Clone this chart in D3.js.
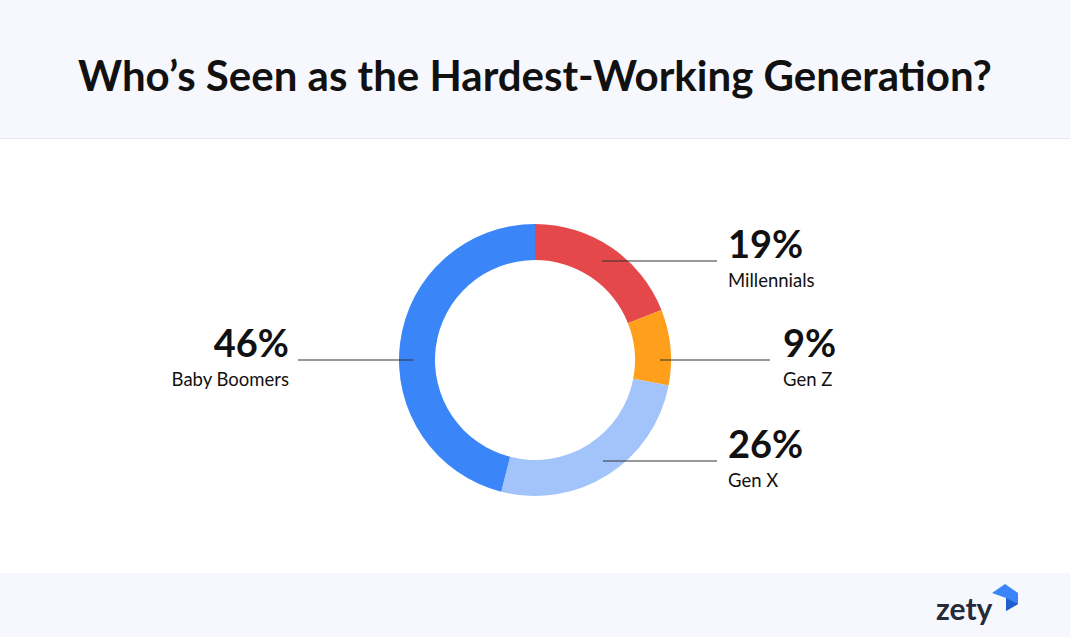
<!DOCTYPE html>
<html><head><meta charset="utf-8">
<script src="https://cdn.jsdelivr.net/npm/d3@7"></script>
<style>body{margin:0;background:#fff}svg{display:block;font-family:Lato,sans-serif}</style>
</head><body><svg id="c" width="1070" height="637"></svg>
<script>
const categories=["Millennials","Gen Z","Gen X","Baby Boomers"];
const values=[19,9,26,46];
const colors=["#e4484b","#ff9f1c","#a3c4fb","#3a86f8"];
const svg=d3.select("#c");
svg.append("rect").attr("width",1070).attr("height",138).attr("fill","#f7f8fd");
svg.append("line").attr("x1",0).attr("x2",1070).attr("y1",138.5).attr("y2",138.5).attr("stroke","#e6e8ef");
svg.append("rect").attr("y",573).attr("width",1070).attr("height",64).attr("fill","#f7f8fd");
svg.append("text").attr("x",535).attr("y",91).attr("text-anchor","middle").attr("font-size",42).attr("font-weight",700).attr("fill","#111").text("Who’s Seen as the Hardest-Working Generation?");
const cx=535,cy=360;
const g=svg.append("g").attr("transform",`translate(${cx},${cy})`);
const pie=d3.pie().sort(null).value(d=>d)(values);
const arc=d3.arc().innerRadius(100).outerRadius(136);
g.selectAll("path").data(pie).join("path").attr("d",arc).attr("fill",(d,i)=>colors[i]);
const labels=[
 {i:0,x1:602,x2:717,y:261,tx:728,anchor:"start"},
 {i:1,x1:660,x2:770,y:360,tx:783,anchor:"start"},
 {i:2,x1:603,x2:717,y:461,tx:728,anchor:"start"},
 {i:3,x1:298,x2:413,y:360,tx:289,anchor:"end"}];
labels.forEach(l=>{
 svg.append("line").attr("x1",l.x1).attr("x2",l.x2).attr("y1",l.y).attr("y2",l.y).attr("stroke","#333").attr("stroke-width",1.2);
 svg.append("text").attr("x",l.tx).attr("y",l.y-3).attr("text-anchor",l.anchor).attr("font-size",38).attr("font-weight",700).attr("fill","#111").text(values[l.i]+"%");
 svg.append("text").attr("x",l.tx).attr("y",l.y+26).attr("text-anchor",l.anchor).attr("font-size",18.5).attr("fill","#111").text(categories[l.i]);
});
svg.append("text").attr("x",936).attr("y",620).attr("font-size",30).attr("font-weight",700).attr("fill","#252b3a").text("zety");
svg.append("path").attr("d","M992,593 L1005,584 L1018,593 L1018,604 L1006,611 L1006,598 Z").attr("fill","#3a86f8");
svg.append("path").attr("d","M1006,598 L1018,604 L1006,611 Z").attr("fill","#1f5fd0");
</script></body></html>
